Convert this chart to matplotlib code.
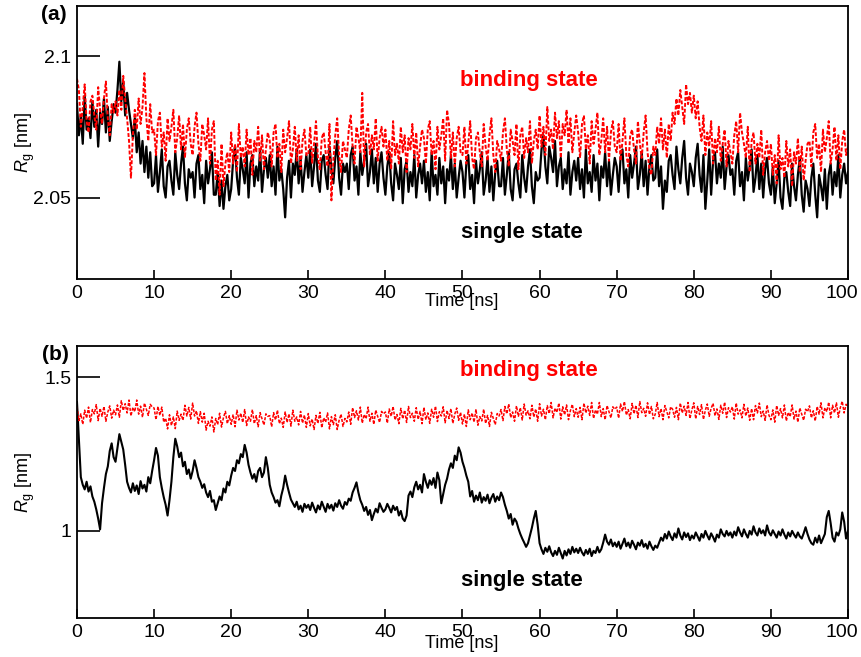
#! /usr/bin/env python3

import numpy as np
import matplotlib
matplotlib.use("Agg")
import matplotlib.pyplot as plt
from matplotlib.transforms import ScaledTranslation

plt.rcParams['font.family'] = ['Liberation Sans', 'DejaVu Sans']
plt.rcParams['mathtext.fontset'] = 'custom'
plt.rcParams['mathtext.rm'] = 'Liberation Sans'
plt.rcParams['mathtext.it'] = 'Liberation Sans:italic'

# Rg values, one every 0.25 ns from 0 to 100 ns
# (each row holds 5 ns)
rg_a_single = [
    2.083, 2.072, 2.079, 2.069, 2.086, 2.074, 2.078, 2.071, 2.084, 2.075, 2.081, 2.068, 2.080, 2.076, 2.085, 2.073, 2.082, 2.070, 2.077, 2.083,
    2.080, 2.088, 2.098, 2.084, 2.091, 2.079, 2.087, 2.081, 2.076, 2.071, 2.078, 2.066, 2.073, 2.062, 2.070, 2.059, 2.068, 2.057, 2.066, 2.054,
    2.055, 2.065, 2.052, 2.059, 2.067, 2.054, 2.050, 2.061, 2.063, 2.056, 2.051, 2.066, 2.058, 2.053, 2.062, 2.068, 2.055, 2.049, 2.060, 2.057,
    2.059, 2.050, 2.062, 2.065, 2.053, 2.058, 2.048, 2.063, 2.055, 2.060, 2.066, 2.051, 2.051, 2.059, 2.047, 2.056, 2.046, 2.054, 2.058, 2.049,
    2.053, 2.063, 2.068, 2.057, 2.051, 2.064, 2.060, 2.055, 2.066, 2.050, 2.062, 2.065, 2.054, 2.061, 2.056, 2.067, 2.052, 2.060, 2.064, 2.057,
    2.065, 2.054, 2.061, 2.051, 2.068, 2.056, 2.060, 2.053, 2.043, 2.057, 2.063, 2.050, 2.062, 2.058, 2.067, 2.055, 2.064, 2.052, 2.059, 2.065,
    2.057, 2.067, 2.054, 2.061, 2.069, 2.056, 2.052, 2.063, 2.065, 2.058, 2.053, 2.068, 2.060, 2.055, 2.064, 2.070, 2.057, 2.051, 2.062, 2.059,
    2.062, 2.053, 2.065, 2.068, 2.056, 2.061, 2.051, 2.066, 2.058, 2.063, 2.069, 2.054, 2.059, 2.067, 2.055, 2.064, 2.052, 2.062, 2.066, 2.057,
    2.051, 2.061, 2.066, 2.055, 2.049, 2.062, 2.058, 2.053, 2.064, 2.048, 2.060, 2.063, 2.052, 2.059, 2.054, 2.065, 2.050, 2.058, 2.062, 2.055,
    2.063, 2.052, 2.059, 2.049, 2.066, 2.054, 2.058, 2.051, 2.064, 2.055, 2.061, 2.048, 2.060, 2.056, 2.065, 2.053, 2.062, 2.050, 2.057, 2.063,
    2.059, 2.050, 2.062, 2.065, 2.053, 2.058, 2.048, 2.063, 2.055, 2.060, 2.066, 2.051, 2.056, 2.064, 2.052, 2.061, 2.049, 2.059, 2.063, 2.054,
    2.054, 2.064, 2.051, 2.058, 2.066, 2.053, 2.049, 2.060, 2.062, 2.055, 2.050, 2.065, 2.057, 2.052, 2.061, 2.067, 2.054, 2.048, 2.059, 2.056,
    2.057, 2.067, 2.072, 2.061, 2.055, 2.068, 2.064, 2.059, 2.070, 2.054, 2.061, 2.064, 2.053, 2.060, 2.055, 2.066, 2.051, 2.059, 2.063, 2.056,
    2.064, 2.053, 2.060, 2.050, 2.067, 2.055, 2.059, 2.052, 2.065, 2.056, 2.062, 2.049, 2.061, 2.057, 2.066, 2.054, 2.063, 2.051, 2.058, 2.064,
    2.061, 2.052, 2.064, 2.067, 2.055, 2.060, 2.050, 2.065, 2.057, 2.062, 2.068, 2.053, 2.058, 2.066, 2.054, 2.063, 2.051, 2.061, 2.065, 2.056,
    2.057, 2.067, 2.054, 2.061, 2.046, 2.056, 2.052, 2.063, 2.065, 2.058, 2.053, 2.068, 2.060, 2.055, 2.064, 2.070, 2.057, 2.051, 2.062, 2.059,
    2.054, 2.064, 2.069, 2.058, 2.052, 2.065, 2.046, 2.056, 2.067, 2.051, 2.063, 2.066, 2.055, 2.062, 2.057, 2.068, 2.053, 2.061, 2.065, 2.058,
    2.060, 2.051, 2.063, 2.066, 2.054, 2.059, 2.049, 2.064, 2.056, 2.061, 2.067, 2.052, 2.057, 2.065, 2.053, 2.062, 2.050, 2.060, 2.064, 2.055,
    2.051, 2.061, 2.048, 2.055, 2.063, 2.050, 2.046, 2.057, 2.059, 2.052, 2.047, 2.062, 2.054, 2.049, 2.058, 2.064, 2.051, 2.045, 2.056, 2.053,
    2.047, 2.057, 2.062, 2.051, 2.043, 2.058, 2.054, 2.049, 2.060, 2.046, 2.058, 2.062, 2.051, 2.059, 2.054, 2.065, 2.050, 2.058, 2.062, 2.055,
    2.059,
]

rg_a_binding = [
    2.092, 2.088, 2.075, 2.082, 2.090, 2.077, 2.073, 2.084, 2.086, 2.079, 2.074, 2.089, 2.081, 2.076, 2.085, 2.091, 2.078, 2.072, 2.083, 2.080,
    2.084, 2.079, 2.088, 2.081, 2.093, 2.085, 2.078, 2.070, 2.057, 2.072, 2.081, 2.074, 2.085, 2.076, 2.082, 2.094, 2.078, 2.070, 2.083, 2.073,
    2.074, 2.065, 2.077, 2.080, 2.068, 2.073, 2.063, 2.078, 2.070, 2.075, 2.081, 2.066, 2.071, 2.079, 2.067, 2.076, 2.064, 2.074, 2.078, 2.069,
    2.065, 2.075, 2.080, 2.069, 2.063, 2.076, 2.072, 2.067, 2.078, 2.062, 2.074, 2.077, 2.056, 2.063, 2.051, 2.069, 2.054, 2.062, 2.066, 2.059,
    2.073, 2.062, 2.069, 2.059, 2.076, 2.064, 2.068, 2.061, 2.074, 2.065, 2.071, 2.058, 2.070, 2.066, 2.075, 2.063, 2.072, 2.060, 2.067, 2.073,
    2.070, 2.061, 2.073, 2.076, 2.064, 2.069, 2.059, 2.074, 2.066, 2.071, 2.077, 2.062, 2.067, 2.075, 2.063, 2.072, 2.060, 2.070, 2.074, 2.065,
    2.065, 2.075, 2.062, 2.069, 2.077, 2.064, 2.060, 2.071, 2.073, 2.066, 2.061, 2.076, 2.049, 2.063, 2.072, 2.078, 2.065, 2.059, 2.070, 2.067,
    2.064, 2.074, 2.079, 2.068, 2.062, 2.075, 2.071, 2.066, 2.087, 2.061, 2.073, 2.076, 2.065, 2.072, 2.067, 2.078, 2.063, 2.071, 2.075, 2.068,
    2.074, 2.063, 2.070, 2.060, 2.077, 2.065, 2.069, 2.062, 2.075, 2.066, 2.072, 2.059, 2.071, 2.067, 2.076, 2.064, 2.073, 2.061, 2.068, 2.074,
    2.071, 2.062, 2.074, 2.077, 2.065, 2.070, 2.060, 2.075, 2.067, 2.072, 2.078, 2.063, 2.081, 2.076, 2.064, 2.073, 2.061, 2.071, 2.075, 2.066,
    2.065, 2.075, 2.062, 2.069, 2.077, 2.064, 2.060, 2.071, 2.073, 2.066, 2.061, 2.076, 2.068, 2.063, 2.072, 2.078, 2.065, 2.059, 2.070, 2.067,
    2.063, 2.073, 2.078, 2.067, 2.061, 2.074, 2.070, 2.065, 2.076, 2.060, 2.072, 2.075, 2.064, 2.071, 2.066, 2.077, 2.062, 2.070, 2.074, 2.067,
    2.079, 2.068, 2.075, 2.065, 2.082, 2.070, 2.074, 2.067, 2.080, 2.071, 2.077, 2.064, 2.076, 2.072, 2.081, 2.069, 2.078, 2.066, 2.073, 2.079,
    2.073, 2.064, 2.076, 2.079, 2.067, 2.072, 2.062, 2.077, 2.069, 2.074, 2.080, 2.065, 2.070, 2.078, 2.066, 2.075, 2.063, 2.073, 2.077, 2.068,
    2.066, 2.076, 2.063, 2.070, 2.078, 2.065, 2.061, 2.072, 2.074, 2.067, 2.062, 2.077, 2.069, 2.064, 2.073, 2.079, 2.066, 2.060, 2.058, 2.068,
    2.065, 2.075, 2.069, 2.078, 2.067, 2.074, 2.064, 2.076, 2.070, 2.080, 2.076, 2.085, 2.079, 2.088, 2.082, 2.076, 2.090, 2.083, 2.087, 2.080,
    2.086, 2.078, 2.084, 2.075, 2.070, 2.079, 2.065, 2.073, 2.068, 2.077, 2.062, 2.071, 2.066, 2.075, 2.063, 2.069, 2.074, 2.061, 2.070, 2.066,
    2.062, 2.072, 2.077, 2.066, 2.080, 2.073, 2.069, 2.064, 2.075, 2.059, 2.070, 2.073, 2.062, 2.069, 2.064, 2.074, 2.058, 2.066, 2.070, 2.063,
    2.069, 2.058, 2.065, 2.055, 2.072, 2.060, 2.064, 2.057, 2.070, 2.061, 2.067, 2.054, 2.066, 2.062, 2.071, 2.059, 2.068, 2.056, 2.063, 2.069,
    2.070, 2.061, 2.073, 2.076, 2.064, 2.069, 2.059, 2.074, 2.066, 2.071, 2.077, 2.062, 2.067, 2.075, 2.063, 2.072, 2.060, 2.070, 2.074, 2.065,
    2.068,
]

rg_b_single = [
    1.420, 1.300, 1.175, 1.150, 1.135, 1.160, 1.128, 1.145, 1.112, 1.095, 1.070, 1.040, 1.005, 1.090, 1.140, 1.185, 1.210, 1.260, 1.285, 1.240,
    1.225, 1.270, 1.315, 1.290, 1.265, 1.215, 1.160, 1.140, 1.125, 1.155, 1.130, 1.148, 1.120, 1.162, 1.138, 1.150, 1.128, 1.175, 1.155, 1.195,
    1.230, 1.270, 1.245, 1.175, 1.140, 1.110, 1.085, 1.050, 1.100, 1.160, 1.240, 1.300, 1.275, 1.240, 1.255, 1.210, 1.225, 1.185, 1.200, 1.170,
    1.195, 1.230, 1.205, 1.175, 1.160, 1.140, 1.152, 1.125, 1.110, 1.130, 1.095, 1.100, 1.068, 1.090, 1.112, 1.100, 1.138, 1.125, 1.160, 1.148,
    1.180, 1.205, 1.195, 1.230, 1.220, 1.250, 1.240, 1.280, 1.255, 1.215, 1.190, 1.170, 1.185, 1.160, 1.195, 1.205, 1.175, 1.190, 1.240, 1.205,
    1.150, 1.125, 1.110, 1.092, 1.100, 1.080, 1.115, 1.140, 1.180, 1.150, 1.125, 1.102, 1.090, 1.078, 1.095, 1.070, 1.082, 1.062, 1.088, 1.075,
    1.085, 1.068, 1.092, 1.075, 1.060, 1.083, 1.070, 1.095, 1.078, 1.062, 1.088, 1.073, 1.085, 1.066, 1.090, 1.078, 1.100, 1.082, 1.072, 1.094,
    1.085, 1.105, 1.098, 1.125, 1.140, 1.158, 1.125, 1.100, 1.085, 1.065, 1.078, 1.052, 1.068, 1.035, 1.055, 1.072, 1.060, 1.090, 1.075, 1.062,
    1.070, 1.088, 1.075, 1.060, 1.082, 1.068, 1.078, 1.050, 1.065, 1.040, 1.032, 1.050, 1.115, 1.128, 1.110, 1.142, 1.160, 1.135, 1.150, 1.125,
    1.185, 1.160, 1.140, 1.165, 1.150, 1.172, 1.140, 1.190, 1.165, 1.090, 1.120, 1.150, 1.170, 1.200, 1.220, 1.205, 1.245, 1.230, 1.272, 1.255,
    1.225, 1.205, 1.180, 1.160, 1.112, 1.130, 1.095, 1.115, 1.100, 1.125, 1.092, 1.110, 1.098, 1.118, 1.090, 1.108, 1.120, 1.095, 1.112, 1.100,
    1.125, 1.110, 1.085, 1.065, 1.040, 1.055, 1.020, 1.040, 1.030, 1.008, 0.990, 0.975, 0.962, 0.948, 0.960, 0.985, 1.010, 1.040, 1.065, 1.020,
    0.960, 0.940, 0.925, 0.945, 0.932, 0.950, 0.930, 0.918, 0.935, 0.922, 0.945, 0.928, 0.910, 0.935, 0.920, 0.940, 0.925, 0.948, 0.930, 0.942,
    0.928, 0.945, 0.930, 0.920, 0.938, 0.925, 0.942, 0.918, 0.935, 0.928, 0.948, 0.930, 0.940, 0.962, 0.988, 0.965, 0.955, 0.972, 0.950, 0.962,
    0.948, 0.965, 0.942, 0.958, 0.975, 0.950, 0.962, 0.945, 0.968, 0.955, 0.940, 0.962, 0.952, 0.970, 0.948, 0.958, 0.942, 0.965, 0.950, 0.938,
    0.952, 0.945, 0.962, 0.978, 0.968, 0.990, 0.975, 0.998, 0.982, 0.970, 0.992, 0.978, 1.008, 0.985, 0.972, 0.995, 0.980, 0.992, 0.970, 0.985,
    0.975, 0.995, 0.982, 0.968, 0.990, 0.978, 1.000, 0.985, 0.972, 0.992, 0.980, 0.965, 0.988, 0.978, 1.005, 0.990, 0.982, 1.000, 0.985, 0.995,
    0.978, 0.998, 0.985, 1.012, 0.995, 0.982, 1.005, 0.990, 0.978, 1.000, 0.988, 1.015, 0.995, 0.985, 1.008, 0.992, 1.002, 0.985, 1.018, 0.995,
    0.985, 1.002, 0.990, 0.978, 0.998, 0.985, 1.005, 0.988, 0.975, 0.995, 0.982, 1.000, 0.988, 0.978, 0.995, 0.982, 0.975, 0.992, 1.012, 0.990,
    0.972, 0.960, 0.955, 0.978, 0.962, 0.985, 0.960, 0.975, 0.990, 1.045, 1.065, 1.025, 0.978, 0.965, 0.995, 0.985, 1.005, 1.060, 1.030, 0.975,
    1.000,
]

rg_b_binding = [
    1.405, 1.359, 1.381, 1.347, 1.393, 1.367, 1.403, 1.353, 1.395, 1.381, 1.411, 1.359, 1.399, 1.373, 1.405, 1.357, 1.387, 1.407, 1.367, 1.393,
    1.378, 1.410, 1.370, 1.424, 1.392, 1.414, 1.384, 1.426, 1.374, 1.402, 1.388, 1.426, 1.380, 1.406, 1.370, 1.416, 1.396, 1.376, 1.412, 1.404,
    1.400, 1.362, 1.405, 1.376, 1.403, 1.354, 1.367, 1.332, 1.378, 1.343, 1.371, 1.333, 1.390, 1.360, 1.380, 1.360, 1.409, 1.374, 1.402, 1.364,
    1.416, 1.374, 1.391, 1.350, 1.388, 1.354, 1.383, 1.328, 1.357, 1.341, 1.371, 1.322, 1.366, 1.346, 1.383, 1.338, 1.369, 1.389, 1.349, 1.375,
    1.347, 1.379, 1.339, 1.393, 1.361, 1.383, 1.353, 1.395, 1.343, 1.371, 1.357, 1.395, 1.349, 1.375, 1.339, 1.385, 1.365, 1.345, 1.381, 1.373,
    1.375, 1.339, 1.385, 1.361, 1.393, 1.349, 1.367, 1.337, 1.387, 1.353, 1.381, 1.341, 1.393, 1.357, 1.371, 1.345, 1.389, 1.351, 1.377, 1.337,
    1.382, 1.342, 1.364, 1.330, 1.376, 1.350, 1.386, 1.336, 1.368, 1.354, 1.384, 1.332, 1.372, 1.346, 1.378, 1.330, 1.360, 1.380, 1.340, 1.366,
    1.355, 1.387, 1.347, 1.401, 1.369, 1.391, 1.361, 1.403, 1.351, 1.379, 1.365, 1.403, 1.357, 1.383, 1.347, 1.393, 1.373, 1.353, 1.389, 1.381,
    1.387, 1.351, 1.397, 1.373, 1.405, 1.361, 1.379, 1.349, 1.399, 1.365, 1.393, 1.353, 1.405, 1.369, 1.383, 1.357, 1.401, 1.363, 1.389, 1.349,
    1.402, 1.362, 1.384, 1.350, 1.396, 1.370, 1.406, 1.356, 1.388, 1.374, 1.404, 1.352, 1.392, 1.366, 1.398, 1.350, 1.380, 1.400, 1.360, 1.386,
    1.348, 1.380, 1.340, 1.394, 1.362, 1.384, 1.354, 1.396, 1.344, 1.372, 1.358, 1.396, 1.350, 1.376, 1.340, 1.386, 1.366, 1.346, 1.382, 1.374,
    1.395, 1.359, 1.405, 1.381, 1.413, 1.369, 1.387, 1.357, 1.407, 1.373, 1.401, 1.361, 1.413, 1.377, 1.391, 1.365, 1.409, 1.371, 1.397, 1.357,
    1.414, 1.374, 1.396, 1.362, 1.408, 1.382, 1.418, 1.368, 1.400, 1.386, 1.416, 1.364, 1.404, 1.378, 1.410, 1.362, 1.392, 1.412, 1.372, 1.398,
    1.370, 1.402, 1.362, 1.416, 1.384, 1.406, 1.376, 1.418, 1.366, 1.394, 1.380, 1.418, 1.372, 1.398, 1.362, 1.408, 1.388, 1.368, 1.404, 1.396,
    1.403, 1.367, 1.413, 1.389, 1.421, 1.377, 1.395, 1.365, 1.415, 1.381, 1.409, 1.369, 1.421, 1.385, 1.399, 1.373, 1.417, 1.379, 1.405, 1.365,
    1.380, 1.418, 1.372, 1.398, 1.362, 1.408, 1.388, 1.368, 1.404, 1.396, 1.370, 1.402, 1.362, 1.416, 1.384, 1.406, 1.376, 1.418, 1.366, 1.394,
    1.417, 1.365, 1.405, 1.379, 1.411, 1.363, 1.393, 1.413, 1.373, 1.399, 1.415, 1.375, 1.397, 1.363, 1.409, 1.383, 1.419, 1.369, 1.401, 1.387,
    1.404, 1.364, 1.416, 1.380, 1.394, 1.368, 1.412, 1.374, 1.400, 1.360, 1.398, 1.362, 1.408, 1.384, 1.416, 1.372, 1.390, 1.360, 1.410, 1.376,
    1.362, 1.394, 1.354, 1.408, 1.376, 1.398, 1.368, 1.410, 1.358, 1.386, 1.372, 1.410, 1.364, 1.390, 1.354, 1.400, 1.380, 1.360, 1.396, 1.388,
    1.407, 1.368, 1.391, 1.358, 1.405, 1.380, 1.417, 1.368, 1.401, 1.388, 1.419, 1.368, 1.409, 1.384, 1.417, 1.370, 1.401, 1.422, 1.384, 1.412,
    1.405,
]

x_ticks = [0, 10, 20, 30, 40, 50, 60, 70, 80, 90, 100]
a_yticks = [2.05, 2.1]
a_ylabels = ['2.05', '2.1']
b_yticks = [1.0, 1.5]
b_ylabels = ['1', '1.5']


def time_axis(values):
    return np.linspace(0, 100, len(values))


def style_axis(ax, yticks, ylabels, ylim):
    ax.set_xlim(0, 100)
    ax.set_ylim(*ylim)
    ax.set_xticks(x_ticks)
    ax.set_yticks(yticks)
    ax.set_yticklabels(ylabels)
    ax.tick_params(axis='x', direction='in', length=6.5, width=1.2, labelsize=14, pad=4)
    ax.tick_params(axis='y', direction='in', length=16.5, width=1.2, labelsize=14, pad=4)
    for s in ax.spines.values():
        s.set_linewidth(1.3)
    ax.set_ylabel(r'$R_{\mathrm{g}}$ [nm]', fontsize=13)
    ax.yaxis.set_label_coords(-0.052, 0.5)
    # last x label sits a little left of its tick, as in the original
    last = ax.get_xticklabels()[-1]
    last.set_transform(last.get_transform() + ScaledTranslation(-0.06, 0, ax.figure.dpi_scale_trans))


fig = plt.figure(figsize=(8.61, 6.57), dpi=100)
ax_a = fig.add_axes([0.0894, 0.5753, 0.8955, 0.4156])
ax_b = fig.add_axes([0.0894, 0.0594, 0.8955, 0.4140])

# panel (a)
ax_a.plot(time_axis(rg_a_single), rg_a_single, color='black', lw=1.6)
ax_a.plot(time_axis(rg_a_binding), rg_a_binding, color='red', lw=1.4, linestyle=(0, (2, 1)))
style_axis(ax_a, a_yticks, a_ylabels, (2.0212, 2.1177))
ax_a.text(49.7, 2.0915, 'binding state', color='red', fontsize=16, fontweight='bold', va='center')
ax_a.text(49.8, 2.0376, 'single state', color='black', fontsize=16, fontweight='bold', va='center')

# panel (b)
ax_b.plot(time_axis(rg_b_single), rg_b_single, color='black', lw=1.5)
ax_b.plot(time_axis(rg_b_binding), rg_b_binding, color='red', lw=1.1, linestyle=(0, (2, 1)))
style_axis(ax_b, b_yticks, b_ylabels, (0.7165, 1.602))
ax_b.text(49.7, 1.523, 'binding state', color='red', fontsize=16, fontweight='bold', va='center')
ax_b.text(49.8, 0.837, 'single state', color='black', fontsize=16, fontweight='bold', va='center')

fig.text(462 / 861, 1 - 302 / 657, 'Time [ns]', fontsize=13, ha='center', va='center')
fig.text(462 / 861, 1 - 643 / 657, 'Time [ns]', fontsize=13, ha='center', va='center')
fig.text(54 / 861, 1 - 14 / 657, '(a)', fontsize=15, fontweight='bold', ha='center', va='center')
fig.text(55 / 861, 1 - 355 / 657, '(b)', fontsize=15, fontweight='bold', ha='center', va='center')

fig.savefig('out.png', dpi=100)
